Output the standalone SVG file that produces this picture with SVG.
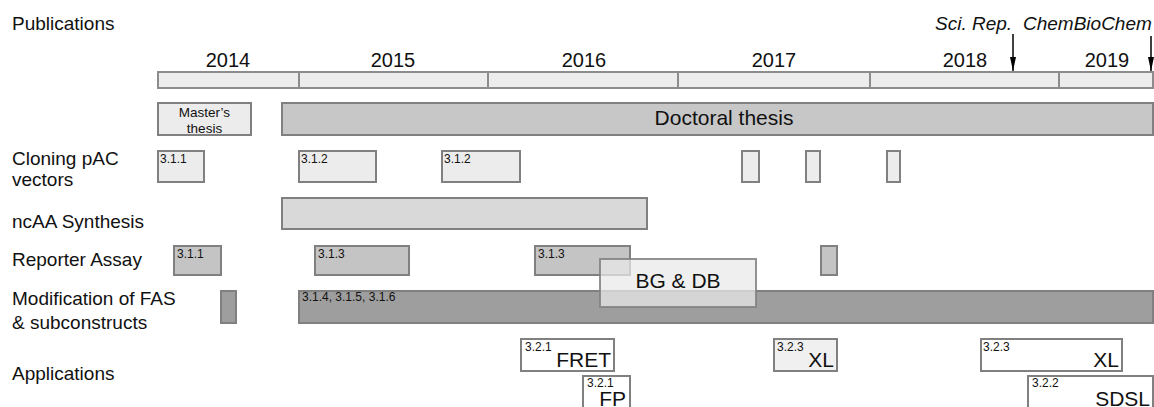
<svg xmlns="http://www.w3.org/2000/svg" width="1154" height="407" viewBox="0 0 1154 407">
  <style>
    text { font-family: "Liberation Sans", Arial, sans-serif; fill: #111; }
    .row { font-size: 19px; }
    .year { font-size: 20px; text-anchor: middle; }
    .pub { font-size: 19px; font-style: italic; }
    .tag { font-size: 12px; }
    .big { font-size: 21px; }
    .box { stroke: #808080; stroke-width: 2; }
    .seg { fill: #ececec; stroke: #8c8c8c; stroke-width: 2; }
    .light { fill: #ececec; }
    .mid { fill: #d9d9d9; }
    .grey { fill: #c4c4c4; }
    .dark { fill: #9e9e9e; }
    .white { fill: #ffffff; }
    .arrow { stroke: #000; stroke-width: 1.5; fill: none; marker-end: url(#head); }
  </style>
  <defs>
    <!-- narrow filled arrowhead, drawn along the line direction -->
    <marker id="head" viewBox="0 0 14 6" refX="14" refY="3" markerWidth="14" markerHeight="6" markerUnits="userSpaceOnUse" orient="auto">
      <path d="M0,0 L14,3 L0,6 Z" fill="#000"/>
    </marker>
  </defs>
  <rect width="1154" height="407" fill="#fff"/>

  <!-- row labels -->
  <g id="labels">
    <text class="row" x="12" y="30">Publications</text>
    <text class="row" x="12" y="165">Cloning pAC</text>
    <text class="row" x="12" y="186">vectors</text>
    <text class="row" x="12" y="228">ncAA Synthesis</text>
    <text class="row" x="12" y="266">Reporter Assay</text>
    <text class="row" x="12" y="305">Modification of FAS</text>
    <text class="row" x="12" y="329">&amp; subconstructs</text>
    <text class="row" x="12" y="380">Applications</text>
  </g>

  <!-- year axis -->
  <g id="timeline">
    <rect class="seg" x="158" y="72" width="141" height="16"/>
    <rect class="seg" x="299" y="72" width="189" height="16"/>
    <rect class="seg" x="488" y="72" width="190" height="16"/>
    <rect class="seg" x="678" y="72" width="192" height="16"/>
    <rect class="seg" x="870" y="72" width="189" height="16"/>
    <rect class="seg" x="1059" y="72" width="94" height="16"/>
    <text class="year" x="228" y="67">2014</text>
    <text class="year" x="393" y="67">2015</text>
    <text class="year" x="584" y="67">2016</text>
    <text class="year" x="774" y="67">2017</text>
    <text class="year" x="965" y="67">2018</text>
    <text class="year" x="1107" y="67">2019</text>
  </g>

  <!-- publication markers -->
  <g id="publications">
    <text class="pub" x="935" y="30">Sci. Rep.</text>
    <text class="pub" x="1023" y="30">ChemBioChem</text>
  </g>

  <g id="connectors">
    <line class="arrow" x1="1013" y1="34" x2="1013" y2="71"/>
    <line class="arrow" x1="1151" y1="36" x2="1151" y2="71"/>
  </g>

  <!-- theses -->
  <g id="masters">
    <rect class="box light" x="158" y="103" width="93" height="32"/>
    <text x="204.5" y="117" font-size="13.5" text-anchor="middle">Master’s</text>
    <text x="204.5" y="132.5" font-size="13.5" text-anchor="middle">thesis</text>
  </g>
  <g id="doctoral">
    <rect class="box" fill="#c7c7c7" x="282" y="103" width="871" height="32"/>
    <text class="big" x="724" y="125" text-anchor="middle">Doctoral thesis</text>
  </g>

  <!-- cloning -->
  <g id="cloning">
    <rect class="box light" x="158" y="151" width="46" height="31"/>
    <text class="tag" x="160" y="163">3.1.1</text>
    <rect class="box light" x="299" y="151" width="77" height="31"/>
    <text class="tag" x="301" y="163">3.1.2</text>
    <rect class="box light" x="442" y="151" width="78" height="31"/>
    <text class="tag" x="444" y="163">3.1.2</text>
    <rect class="box light" x="742" y="151" width="17" height="31"/>
    <rect class="box light" x="806" y="151" width="14" height="31"/>
    <rect class="box light" x="887" y="151" width="13" height="31"/>
  </g>

  <!-- synthesis -->
  <g id="synthesis">
    <rect class="box mid" x="282" y="198" width="365" height="31"/>
  </g>

  <!-- reporter assay -->
  <g id="reporter">
    <rect class="box grey" x="174" y="246" width="47" height="29"/>
    <text class="tag" x="177" y="258">3.1.1</text>
    <rect class="box grey" x="315" y="246" width="94" height="29"/>
    <text class="tag" x="318" y="258">3.1.3</text>
    <rect class="box grey" x="535" y="246" width="95" height="29"/>
    <text class="tag" x="538" y="258">3.1.3</text>
    <rect class="box grey" x="821" y="246" width="16" height="29"/>
  </g>

  <!-- FAS modification -->
  <g id="fas">
    <rect class="box dark" x="221" y="291" width="15" height="32"/>
    <rect class="box dark" x="299" y="291" width="854" height="32"/>
    <text class="tag" x="302" y="301">3.1.4, 3.1.5, 3.1.6</text>
  </g>

  <!-- overlay note -->
  <g id="bgdb">
    <rect x="600" y="259" width="156" height="48" fill="#e9e9e9" fill-opacity="0.73" stroke="#808080" stroke-opacity="0.85" stroke-width="2"/>
    <text class="big" x="678" y="288" text-anchor="middle">BG &amp; DB</text>
  </g>

  <!-- applications -->
  <g id="fret">
    <rect class="box white" x="521" y="339" width="93" height="32"/>
    <text class="tag" x="525" y="351">3.2.1</text>
    <text class="big" x="611" y="367" text-anchor="end">FRET</text>
  </g>
  <g id="fp">
    <rect class="box white" x="583" y="376" width="47" height="40"/>
    <text class="tag" x="587" y="387">3.2.1</text>
    <text class="big" x="626" y="406" text-anchor="end">FP</text>
  </g>
  <g id="xl2017">
    <rect class="box" fill="#f0f0f0" x="774" y="339" width="63" height="32"/>
    <text class="tag" x="777" y="351">3.2.3</text>
    <text class="big" x="834" y="367" text-anchor="end">XL</text>
  </g>
  <g id="xl2018">
    <rect class="box white" x="981" y="339" width="141" height="32"/>
    <text class="tag" x="983" y="351">3.2.3</text>
    <text class="big" x="1119" y="367" text-anchor="end">XL</text>
  </g>
  <g id="sdsl">
    <rect class="box white" x="1028" y="376" width="125" height="40"/>
    <text class="tag" x="1032" y="387">3.2.2</text>
    <text class="big" x="1150" y="406" text-anchor="end">SDSL</text>
  </g>
</svg>
